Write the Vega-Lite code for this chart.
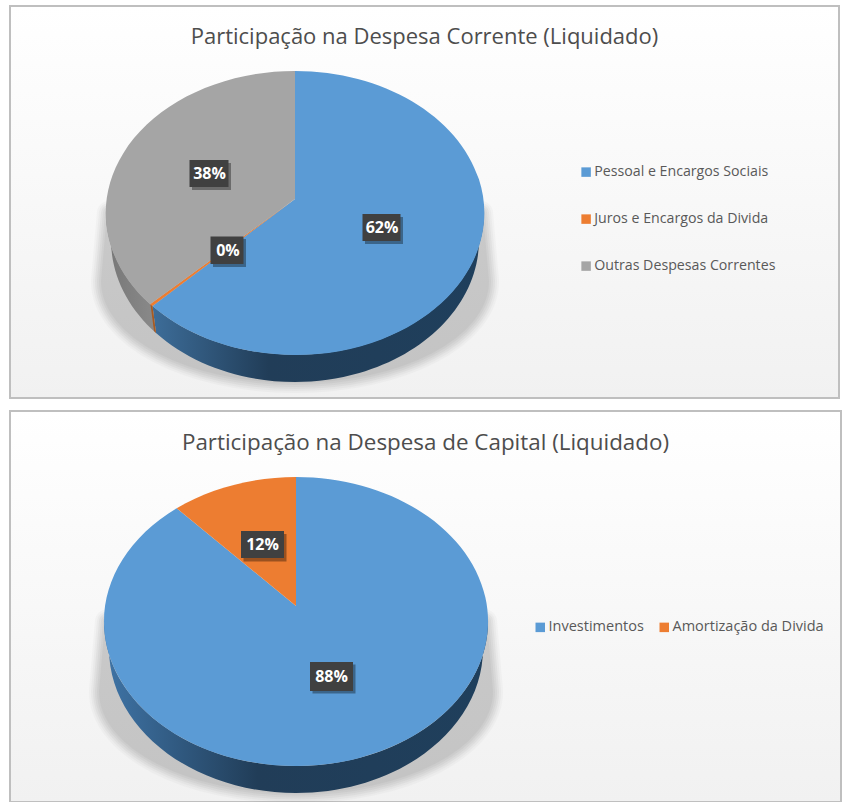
{"$schema":"https://vega.github.io/schema/vega-lite/v6.json","padding":{"left":9,"top":5,"right":0,"bottom":0},"background":"white","spacing":13,"bounds":"flush","config":{"view":{"stroke":"#bfbfbf","strokeWidth":2},"title":{"font":"Open Sans","fontSize":22,"fontWeight":"normal","color":"#4d4d4d","anchor":"middle","offset":-43},"legend":{"labelFont":"Open Sans","labelFontSize":14.5,"labelColor":"#595959","labelLimit":260,"symbolType":"square","symbolSize":90,"symbolStrokeWidth":0,"symbolOpacity":1},"point":{"filled":true,"opacity":1,"size":4}},"datasets":{"corrente":[{"categoria":"Pessoal e Encargos Sociais","participacao":0.62},{"categoria":"Juros e Encargos da Divida","participacao":0.003},{"categoria":"Outras Despesas Correntes","participacao":0.38}],"capital":[{"categoria":"Investimentos","participacao":0.88},{"categoria":"Amortização da Divida","participacao":0.12}]},"resolve":{"scale":{"color":"independent"},"legend":{"color":"independent"}},"vconcat":[{"width":829,"height":392,"title":"Participação na Despesa Corrente (Liquidado)","view":{"fill":{"gradient":"linear","x1":0,"y1":0,"x2":0,"y2":1,"stops":[{"offset":0,"color":"#ffffff"},{"offset":1,"color":"#f1f1f1"}]}},"data":{"name":"corrente"},"resolve":{"scale":{"shape":"independent"}},"layer":[
{"transform":[{"filter":"datum.categoria === 'Pessoal e Encargos Sociais'"}],"layer":[
{"mark":{"type":"point","shape":"M-186,0 L-192,68 A192,100 0 0 0 192,68 L186,0 Z","fill":"#000","stroke":"#000","strokeWidth":24,"opacity":0.02,"strokeJoin":"round","size":4},"encoding":{"x":{"value":285},"y":{"value":207}}},
{"mark":{"type":"point","shape":"M-186,0 L-192,68 A192,100 0 0 0 192,68 L186,0 Z","fill":"#000","stroke":"#000","strokeWidth":20,"opacity":0.025,"strokeJoin":"round","size":4},"encoding":{"x":{"value":285},"y":{"value":207}}},
{"mark":{"type":"point","shape":"M-186,0 L-192,68 A192,100 0 0 0 192,68 L186,0 Z","fill":"#000","stroke":"#000","strokeWidth":16,"opacity":0.03,"strokeJoin":"round","size":4},"encoding":{"x":{"value":285},"y":{"value":207}}},
{"mark":{"type":"point","shape":"M-186,0 L-192,68 A192,100 0 0 0 192,68 L186,0 Z","fill":"#000","stroke":"#000","strokeWidth":12,"opacity":0.03,"strokeJoin":"round","size":4},"encoding":{"x":{"value":285},"y":{"value":207}}},
{"mark":{"type":"point","shape":"M-186,0 L-192,68 A192,100 0 0 0 192,68 L186,0 Z","fill":"#000","stroke":"#000","strokeWidth":8,"opacity":0.03,"strokeJoin":"round","size":4},"encoding":{"x":{"value":285},"y":{"value":207}}},
{"mark":{"type":"point","shape":"M-186,0 L-192,68 A192,100 0 0 0 192,68 L186,0 Z","fill":"#000","stroke":"#000","strokeWidth":4,"opacity":0.03,"strokeJoin":"round","size":4},"encoding":{"x":{"value":285},"y":{"value":207}}},
{"mark":{"type":"point","shape":"M189,0 A189,142 0 0 1 -142.5,93 L-139,120 A184,142 0 0 0 184,27 Z","size":4,"fill":{"gradient":"linear","x1":0,"y1":0,"x2":1,"y2":0,"stops":[{"offset":0,"color":"#3d6d99"},{"offset":0.35,"color":"#213d58"},{"offset":1,"color":"#1f3f5c"}]}},"encoding":{"x":{"value":285},"y":{"value":207}}}]},
{"transform":[{"filter":"datum.categoria === 'Outras Despesas Correntes'"}],"mark":{"type":"point","shape":"M-142.5,93 A189,142 0 0 1 -189,0 L-184,27 A184,142 0 0 0 -139,120 Z","size":4,"fill":{"gradient":"linear","x1":0,"y1":0,"x2":1,"y2":0,"stops":[{"offset":0,"color":"#777777"},{"offset":1,"color":"#8a8a8a"}]}},"encoding":{"x":{"value":285},"y":{"value":207}}},
{"transform":[{"filter":"datum.categoria === 'Juros e Encargos da Divida'"}],"mark":{"type":"point","shape":"M-142.5,93 L-139,120 L-141,118 L-144.5,91.5 Z","size":4,"fill":"#a85a20"},"encoding":{"x":{"value":285},"y":{"value":207}}},
{"mark":{"type":"point","size":4},"encoding":{"x":{"value":285},"y":{"value":207},"color":{"field":"categoria","type":"nominal","scale":{"domain":["Pessoal e Encargos Sociais","Juros e Encargos da Divida","Outras Despesas Correntes"],"range":["#5b9bd5","#ed7d31","#a5a5a5"]},"legend":{"title":null,"orient":"none","legendX":569,"legendY":159,"rowPadding":32,"labelOffset":1,"labelFontSize":14.2}},"shape":{"field":"categoria","type":"nominal","legend":null,"scale":{"domain":["Pessoal e Encargos Sociais","Juros e Encargos da Divida","Outras Despesas Correntes"],"range":["M0,-14 L0,-142 A189,142 0 1 1 -142.5,93 Z","M0,-14 L-142.5,93 A189,142 0 0 1 -145,91.3 Z","M0,-14 L-145,91.3 A189,142 0 0 1 0,-142 Z"]}}}},
{"mark":{"type":"point","size":4,"fill":"#000","opacity":0.35},"encoding":{"x":{"value":285},"y":{"value":207},"shape":{"field":"categoria","type":"nominal","legend":null,"scale":{"domain":["Pessoal e Encargos Sociais","Juros e Encargos da Divida","Outras Despesas Correntes"],"range":["M70,4 L108,4 L108,31 L70,31 Z","M-82,26 L-49,26 L-49,54 L-82,54 Z","M-103,-50 L-64,-50 L-64,-23 L-103,-23 Z"]}}}},
{"mark":{"type":"point","size":4,"fill":"#404040"},"encoding":{"x":{"value":285},"y":{"value":207},"shape":{"field":"categoria","type":"nominal","legend":null,"scale":{"domain":["Pessoal e Encargos Sociais","Juros e Encargos da Divida","Outras Despesas Correntes"],"range":["M67.5,1 L105.5,1 L105.5,28 L67.5,28 Z","M-84.5,23.5 L-51.5,23.5 L-51.5,51 L-84.5,51 Z","M-105.5,-53 L-66.5,-53 L-66.5,-26 L-105.5,-26 Z"]}}}},
{"transform":[{"filter":"datum.categoria === 'Pessoal e Encargos Sociais'"}],"mark":{"type":"text","font":"Open Sans","fontSize":16,"fontWeight":"bold","color":"#ffffff","baseline":"middle"},"encoding":{"x":{"value":372},"y":{"value":222},"text":{"field":"participacao","type":"quantitative","format":".0%"}}},
{"transform":[{"filter":"datum.categoria === 'Juros e Encargos da Divida'"}],"mark":{"type":"text","font":"Open Sans","fontSize":16,"fontWeight":"bold","color":"#ffffff","baseline":"middle"},"encoding":{"x":{"value":218},"y":{"value":244.5},"text":{"field":"participacao","type":"quantitative","format":".0%"}}},
{"transform":[{"filter":"datum.categoria === 'Outras Despesas Correntes'"}],"mark":{"type":"text","font":"Open Sans","fontSize":16,"fontWeight":"bold","color":"#ffffff","baseline":"middle"},"encoding":{"x":{"value":199.5},"y":{"value":167.5},"text":{"field":"participacao","type":"quantitative","format":".0%"}}}
]},
{"width":831,"height":391,"title":{"text":"Participação na Despesa de Capital (Liquidado)","fontSize":22.4},"view":{"fill":{"gradient":"linear","x1":0,"y1":0,"x2":0,"y2":1,"stops":[{"offset":0,"color":"#ffffff"},{"offset":1,"color":"#f1f1f1"}]}},"data":{"name":"capital"},"resolve":{"scale":{"shape":"independent"}},"layer":[
{"transform":[{"filter":"datum.categoria === 'Investimentos'"}],"layer":[
{"mark":{"type":"point","shape":"M-189,0 L-195,70 A195,100 0 0 0 195,70 L189,0 Z","fill":"#000","stroke":"#000","strokeWidth":24,"opacity":0.02,"strokeJoin":"round","size":4},"encoding":{"x":{"value":286},"y":{"value":210.5}}},
{"mark":{"type":"point","shape":"M-189,0 L-195,70 A195,100 0 0 0 195,70 L189,0 Z","fill":"#000","stroke":"#000","strokeWidth":20,"opacity":0.025,"strokeJoin":"round","size":4},"encoding":{"x":{"value":286},"y":{"value":210.5}}},
{"mark":{"type":"point","shape":"M-189,0 L-195,70 A195,100 0 0 0 195,70 L189,0 Z","fill":"#000","stroke":"#000","strokeWidth":16,"opacity":0.03,"strokeJoin":"round","size":4},"encoding":{"x":{"value":286},"y":{"value":210.5}}},
{"mark":{"type":"point","shape":"M-189,0 L-195,70 A195,100 0 0 0 195,70 L189,0 Z","fill":"#000","stroke":"#000","strokeWidth":12,"opacity":0.03,"strokeJoin":"round","size":4},"encoding":{"x":{"value":286},"y":{"value":210.5}}},
{"mark":{"type":"point","shape":"M-189,0 L-195,70 A195,100 0 0 0 195,70 L189,0 Z","fill":"#000","stroke":"#000","strokeWidth":8,"opacity":0.03,"strokeJoin":"round","size":4},"encoding":{"x":{"value":286},"y":{"value":210.5}}},
{"mark":{"type":"point","shape":"M-189,0 L-195,70 A195,100 0 0 0 195,70 L189,0 Z","fill":"#000","stroke":"#000","strokeWidth":4,"opacity":0.03,"strokeJoin":"round","size":4},"encoding":{"x":{"value":286},"y":{"value":210.5}}},
{"mark":{"type":"point","shape":"M192,0 A192,144.5 0 0 1 -192,0 L-187,27 A187,144.5 0 0 0 187,27 Z","size":4,"fill":{"gradient":"linear","x1":0,"y1":0,"x2":1,"y2":0,"stops":[{"offset":0,"color":"#3f74a6"},{"offset":0.4,"color":"#213d58"},{"offset":1,"color":"#1f3f5c"}]}},"encoding":{"x":{"value":286},"y":{"value":210.5}}}]},
{"mark":{"type":"point","size":4},"encoding":{"x":{"value":286},"y":{"value":210.5},"color":{"field":"categoria","type":"nominal","scale":{"domain":["Investimentos","Amortização da Divida"],"range":["#5b9bd5","#ed7d31"]},"legend":{"title":null,"orient":"none","direction":"horizontal","columns":2,"legendX":523,"legendY":209,"columnPadding":13,"labelOffset":1}},"shape":{"field":"categoria","type":"nominal","legend":null,"scale":{"domain":["Investimentos","Amortização da Divida"],"range":["M0,-15.5 L-119.3,-113.2 A192,144.5 0 1 0 0,-144.5 Z","M0,-15.5 L0,-144.5 A192,144.5 0 0 0 -119.3,-113.2 Z"]}}}},
{"mark":{"type":"point","size":4,"fill":"#000","opacity":0.35},"encoding":{"x":{"value":286},"y":{"value":210.5},"shape":{"field":"categoria","type":"nominal","legend":null,"scale":{"domain":["Investimentos","Amortização da Divida"],"range":["M16.5,43 L59.5,43 L59.5,72 L16.5,72 Z","M-52.5,-87.5 L-9.5,-87.5 L-9.5,-60 L-52.5,-60 Z"]}}}},
{"mark":{"type":"point","size":4,"fill":"#404040"},"encoding":{"x":{"value":286},"y":{"value":210.5},"shape":{"field":"categoria","type":"nominal","legend":null,"scale":{"domain":["Investimentos","Amortização da Divida"],"range":["M14,40.5 L57,40.5 L57,69.5 L14,69.5 Z","M-55,-90.5 L-12,-90.5 L-12,-63.5 L-55,-63.5 Z"]}}}},
{"transform":[{"filter":"datum.categoria === 'Investimentos'"}],"mark":{"type":"text","font":"Open Sans","fontSize":16,"fontWeight":"bold","color":"#ffffff","baseline":"middle"},"encoding":{"x":{"value":321.5},"y":{"value":265.5},"text":{"field":"participacao","type":"quantitative","format":".0%"}}},
{"transform":[{"filter":"datum.categoria === \"Amortização da Divida\""}],"mark":{"type":"text","font":"Open Sans","fontSize":16,"fontWeight":"bold","color":"#ffffff","baseline":"middle"},"encoding":{"x":{"value":252.5},"y":{"value":133.5},"text":{"field":"participacao","type":"quantitative","format":".0%"}}}
]}]}
